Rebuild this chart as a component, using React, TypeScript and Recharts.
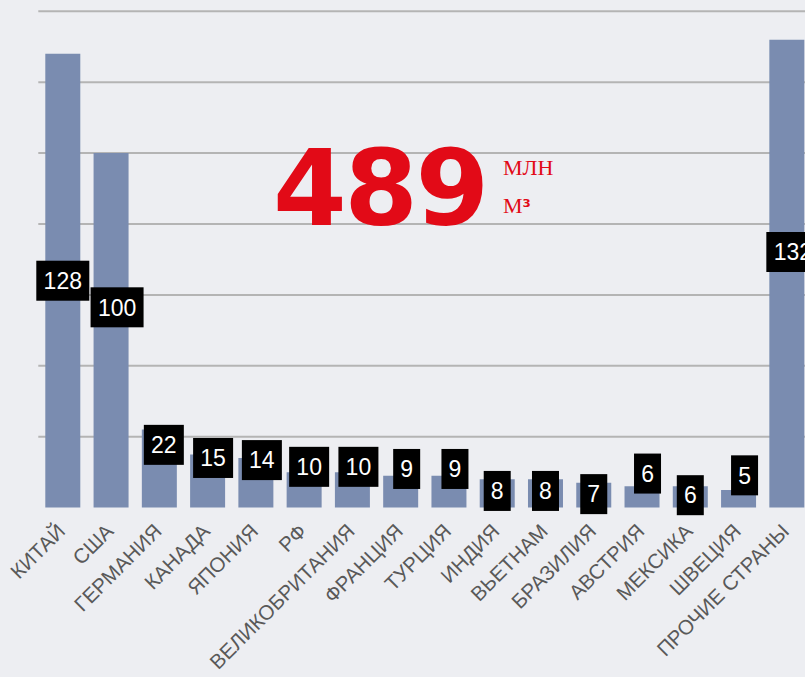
import { BarChart, Bar, XAxis, YAxis, CartesianGrid, LabelList } from "recharts"

const countries = [
  "КИТАЙ",
  "США",
  "ГЕРМАНИЯ",
  "КАНАДА",
  "ЯПОНИЯ",
  "РФ",
  "ВЕЛИКОБРИТАНИЯ",
  "ФРАНЦИЯ",
  "ТУРЦИЯ",
  "ИНДИЯ",
  "ВЬЕТНАМ",
  "БРАЗИЛИЯ",
  "АВСТРИЯ",
  "МЕКСИКА",
  "ШВЕЦИЯ",
  "ПРОЧИЕ СТРАНЫ",
]
const volumes = [128, 100, 22, 15, 14, 10, 10, 9, 9, 8, 8, 7, 6, 6, 5, 132]
const yMax = 140
const yTicks = [20, 40, 60, 80, 100, 120, 140]

// label placement as in the original, on the value scale (where the box centre sits)
const labelLevels = [64, 56.5, 17.7, 14, 13.4, 11.5, 11.5, 10.9, 10.9, 4.7, 4.7, 3.8, 9.6, 3.5, 9.1, 72.1]
const labelShift = [0, 6, 4.5, 5.5, 6, 5, 6, 6, 6, 0, 0, 0, 5.5, 0, 6, 6]

const data = countries.map((name, i) => ({ name, value: volumes[i] }))
const total = volumes.reduce((s, v) => s + v, 0)

const RED = "#e20a17"

function CountryTick({ x, y, payload }: any) {
  const tx = x + 4
  const ty = y + 25
  return (
    <text
      x={tx}
      y={ty}
      transform={`rotate(-45 ${tx} ${ty})`}
      textAnchor="end"
      fill="#595959"
      fontSize={20.5}
      fontFamily="'Liberation Sans', Arial, sans-serif"
    >
      {payload.value}
    </text>
  )
}

function ValueBox(props: any) {
  const { x, y, width, height, index, value } = props
  const perUnit = height / value
  const cy = y + height - labelLevels[index] * perUnit
  const cx = x + width / 2 + labelShift[index]
  const text = String(value)
  const w = 14 + 13 * text.length
  return (
    <g>
      <rect x={cx - w / 2} y={cy - 20} width={w} height={40} fill="#000" />
      <text
        x={cx}
        y={cy}
        dy="0.36em"
        textAnchor="middle"
        fill="#fff"
        fontSize={23}
        fontFamily="'Liberation Sans', Arial, sans-serif"
      >
        {text}
      </text>
    </g>
  )
}

// grid only at the tick values, no line on the zero level
function gridRows({ yAxis, offset }: any) {
  const s = yAxis && yAxis.scale
  return yTicks.map((t) => {
    if (typeof s === "function") return s(t)
    if (s && typeof s.map === "function") return s.map(t)
    return offset.top + offset.height * (1 - t / yMax)
  })
}

export default function App() {
  return (
    <div
      style={{
        position: "absolute",
        left: 0,
        top: 0,
        width: 805,
        height: 677,
        overflow: "hidden",
        background: "#edeef2",
      }}
    >
      <BarChart
        width={830}
        height={677}
        data={data}
        margin={{ top: 11.3, right: 19.4, left: 38.3, bottom: 0 }}
      >
        <CartesianGrid
          vertical={false}
          stroke="#b4b4b4"
          strokeWidth={2}
          horizontalCoordinatesGenerator={gridRows}
        />
        <XAxis
          dataKey="name"
          interval={0}
          axisLine={false}
          tickLine={false}
          tickSize={0}
          tickMargin={0}
          height={169.4}
          tick={<CountryTick />}
        />
        <YAxis hide width={0} domain={[0, yMax]} ticks={yTicks} />
        <Bar dataKey="value" fill="#7a8cb0" barSize={35} isAnimationActive={false}>
          <LabelList dataKey="value" content={<ValueBox />} />
        </Bar>
      </BarChart>
      <svg
        width={805}
        height={677}
        style={{ position: "absolute", left: 0, top: 0, pointerEvents: "none" }}
      >
        <text
          x={273}
          y={225}
          fill={RED}
          fontSize={106}
          letterSpacing={-2.5}
          fontWeight="bold"
          fontFamily="'DejaVu Sans', sans-serif"
        >
          {total}
        </text>
        <text x={503} y={175} fill={RED} fontSize={22} fontFamily="'Liberation Serif', serif">
          МЛН
        </text>
        <text x={503} y={213} fill={RED} fontSize={22} fontFamily="'Liberation Serif', serif">
          М
          <tspan fontSize={19} fontWeight="bold" fontFamily="'DejaVu Sans', sans-serif">
            ³
          </tspan>
        </text>
      </svg>
    </div>
  )
}
